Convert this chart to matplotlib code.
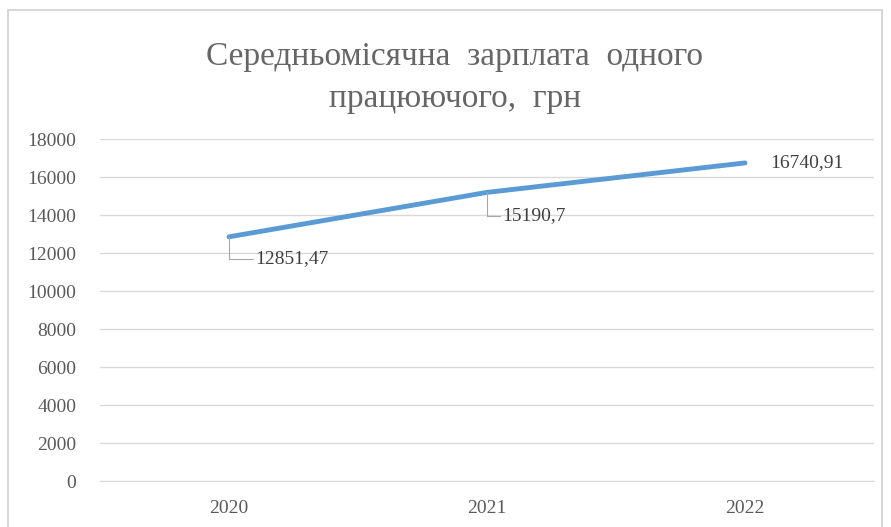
import matplotlib
matplotlib.use("Agg")
import matplotlib.pyplot as plt
from matplotlib.patches import Rectangle

years = ["2020", "2021", "2022"]
salary = [12851.47, 15190.7, 16740.91]
labels = ["12851,47", "15190,7", "16740,91"]
yticks = [0, 2000, 4000, 6000, 8000, 10000, 12000, 14000, 16000, 18000]

plt.rcParams['font.family'] = ['Liberation Serif', 'DejaVu Serif']

W, H = 891, 527
fig = plt.figure(figsize=(W/100, H/100), dpi=100)
fig.patch.set_facecolor('white')
# outer chart border
fig.patches.append(Rectangle((8/W, -0.05), (882-8)/W, 1.05 - 10/H, transform=fig.transFigure,
                             fill=False, edgecolor='#d0d0d0', linewidth=1.2))

ax = fig.add_axes([100/W, 1-481/H, (874-100)/W, (481-139)/H])
x = list(range(len(years)))
ax.plot(x, salary, color='#5B9BD5', linewidth=3.5, solid_capstyle='round')
ax.set_xlim(-0.5, len(years)-0.5)
ax.set_ylim(0, 18000)
ax.set_yticks(yticks)
ax.set_yticklabels([str(v) for v in yticks])
ax.set_xticks(x)
ax.set_xticklabels(years)
ax.yaxis.grid(True, color='#d9d9d9', linewidth=1)
ax.set_axisbelow(True)
for s in ['top', 'right', 'left']:
    ax.spines[s].set_visible(False)
ax.spines['bottom'].set_color('#d9d9d9')
ax.tick_params(axis='both', length=0, labelsize=14, colors='#595959')
ax.tick_params(axis='y', pad=17)
ax.tick_params(axis='x', pad=14)

arrow = dict(arrowstyle='-', color='#a6a6a6', lw=0.8,
             connectionstyle='angle,angleA=0,angleB=90,rad=0', shrinkA=0, shrinkB=0)
ax.annotate(labels[0], xy=(x[0], salary[0]), xytext=(19, -16), textcoords='offset points',
            fontsize=14, color='#404040', va='center', ha='left', arrowprops=arrow)
ax.annotate(labels[1], xy=(x[1], salary[1]), xytext=(11, -17), textcoords='offset points',
            fontsize=14, color='#404040', va='center', ha='left', arrowprops=arrow)
ax.annotate(labels[2], xy=(x[2], salary[2]), xytext=(18, 0), textcoords='offset points',
            fontsize=14, color='#404040', va='center', ha='left')

fig.text(455/W, 1-78/H, "Середньомісячна  зарплата  одного\nпрацюючого,  грн", ha='center', va='center',
         fontsize=24, color='#666666', linespacing=1.5)

fig.savefig("out.png", dpi=100, facecolor='white')
